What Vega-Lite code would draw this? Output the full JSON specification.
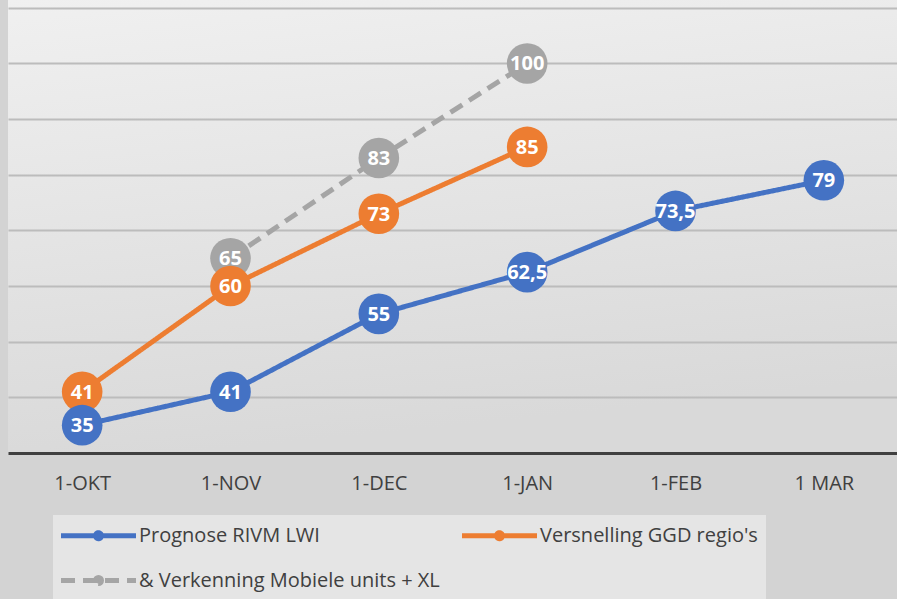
{
  "$schema": "https://vega.github.io/schema/vega-lite/v6.json",
  "width": 890,
  "height": 453,
  "autosize": {"type": "none"},
  "padding": {"left": 8, "top": 0, "right": 0, "bottom": 146},
  "background": "#d3d3d3",
  "config": {
    "font": "Open Sans",
    "view": {
      "stroke": null,
      "fill": {
        "gradient": "linear", "x1": 0, "y1": 0, "x2": 0.2, "y2": 1,
        "stops": [{"offset": 0, "color": "#f0f0f0"}, {"offset": 1, "color": "#d9d9d9"}]
      }
    }
  },
  "data": {
    "values": [
      {"reeks": "& Verkenning Mobiele units + XL", "maand": "1-NOV", "waarde": 65, "label": "65"},
      {"reeks": "& Verkenning Mobiele units + XL", "maand": "1-DEC", "waarde": 83, "label": "83"},
      {"reeks": "& Verkenning Mobiele units + XL", "maand": "1-JAN", "waarde": 100, "label": "100"},
      {"reeks": "Versnelling GGD regio's", "maand": "1-OKT", "waarde": 41, "label": "41"},
      {"reeks": "Versnelling GGD regio's", "maand": "1-NOV", "waarde": 60, "label": "60"},
      {"reeks": "Versnelling GGD regio's", "maand": "1-DEC", "waarde": 73, "label": "73"},
      {"reeks": "Versnelling GGD regio's", "maand": "1-JAN", "waarde": 85, "label": "85"},
      {"reeks": "Prognose RIVM LWI", "maand": "1-OKT", "waarde": 35, "label": "35"},
      {"reeks": "Prognose RIVM LWI", "maand": "1-NOV", "waarde": 41, "label": "41"},
      {"reeks": "Prognose RIVM LWI", "maand": "1-DEC", "waarde": 55, "label": "55"},
      {"reeks": "Prognose RIVM LWI", "maand": "1-JAN", "waarde": 62.5, "label": "62,5"},
      {"reeks": "Prognose RIVM LWI", "maand": "1-FEB", "waarde": 73.5, "label": "73,5"},
      {"reeks": "Prognose RIVM LWI", "maand": "1 MAR", "waarde": 79, "label": "79"}
    ]
  },
  "encoding": {
    "x": {
      "field": "maand", "type": "nominal",
      "sort": ["1-OKT", "1-NOV", "1-DEC", "1-JAN", "1-FEB", "1 MAR"],
      "scale": {"type": "point", "padding": 0.5, "domain": ["1-OKT", "1-NOV", "1-DEC", "1-JAN", "1-FEB", "1 MAR"]},
      "axis": {
        "title": null, "labelAngle": 0, "ticks": false, "grid": false,
        "domain": true, "domainColor": "#404040", "domainWidth": 3,
        "labelFontSize": 20, "labelColor": "#404040", "labelPadding": 20, "labelFont": "Open Sans"
      }
    },
    "y": {
      "field": "waarde", "type": "quantitative",
      "scale": {"domain": [30, 111.4], "nice": false, "zero": false},
      "axis": {
        "title": null, "labels": false, "ticks": false, "domain": false,
        "grid": true, "values": [40, 50, 60, 70, 80, 90, 100, 110],
        "gridColor": "#bcbcbc", "gridWidth": 2
      }
    }
  },
  "layer": [
    {
      "mark": {"type": "line", "strokeWidth": 5},
      "encoding": {
        "color": {
          "field": "reeks", "type": "nominal",
          "scale": {
            "domain": ["Prognose RIVM LWI", "Versnelling GGD regio's", "& Verkenning Mobiele units + XL"],
            "range": ["#4472c4", "#ed7d31", "#a5a5a5"]
          },
          "legend": {
            "title": null, "orient": "none", "legendX": 45, "legendY": 515,
            "columns": 2, "direction": "horizontal",
            "fillColor": "#e5e5e5", "padding": 8,
            "symbolType": "M-1.25,0H6.25M2.2,0A0.3,0.3,0,1,1,2.8,0A0.3,0.3,0,1,1,2.2,0",
            "symbolSize": 400, "symbolStrokeWidth": 5,
            "labelOffset": 53, "labelFontSize": 20, "labelColor": "#404040", "labelFont": "Open Sans",
            "labelLimit": 800, "rowPadding": 18, "columnPadding": 12,
            "labelExpr": "datum.label == \"Versnelling GGD regio's\" ? datum.label + '                              ' : datum.label",
            "encode": {"symbols": {"update": {"fill": {"scale": "color", "field": "value"}}}}
          }
        },
        "strokeDash": {
          "field": "reeks", "type": "nominal",
          "scale": {
            "domain": ["Prognose RIVM LWI", "Versnelling GGD regio's", "& Verkenning Mobiele units + XL"],
            "range": [[1, 0], [1, 0], [14, 8]]
          }
        }
      }
    },
    {
      "mark": {"type": "circle", "size": 1650, "opacity": 1},
      "encoding": {
        "color": {"field": "reeks", "type": "nominal", "legend": null}
      }
    },
    {
      "mark": {"type": "text", "color": "white", "fontWeight": "bold", "fontSize": 20, "baseline": "middle", "font": "Open Sans", "dy": 1},
      "encoding": {"text": {"field": "label"}}
    }
  ]
}
